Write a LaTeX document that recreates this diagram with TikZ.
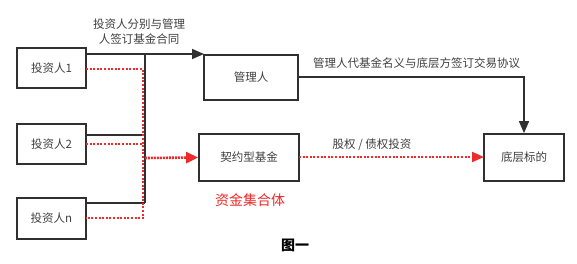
\documentclass[tikz,border=0pt]{standalone}
\usepackage{fontspec}
\setmainfont{Noto Sans CJK SC}
\usetikzlibrary{arrows.meta,calc}
\definecolor{txt}{HTML}{404040}
\definecolor{ln}{HTML}{303030}
\definecolor{rd}{HTML}{EE2A2A}
\tikzset{
  box/.style={draw=ln,line width=1.8pt,rectangle,inner sep=0pt,font=\fontsize{11.5}{13}\selectfont,text=txt},
  blk/.style={draw=ln,line width=1.6pt},
  reddot/.style={color=rd,line width=2pt,dash pattern=on 2pt off 1.6pt},
  tipb/.style={-{Triangle[length=12pt,width=10pt]}},
  lbl/.style={font=\fontsize{11.5}{15}\selectfont,text=txt,inner sep=0pt,align=center}
}
\begin{document}
\begin{tikzpicture}[x=1pt,y=-1pt]
\useasboundingbox[fill=white] (0,0) rectangle (577,263);
\node[box,minimum width=69pt,minimum height=40pt] (inv1) at (51.5,68) {投资人1};
\node[box,minimum width=69pt,minimum height=40pt] (inv2) at (51.5,144) {投资人2};
\node[box,minimum width=69pt,minimum height=41pt] (invn) at (51.5,218.5) {投资人n};
\node[box,minimum width=94pt,minimum height=45pt] (mgr) at (251,77.5) {管理人};
\node[box,minimum width=100pt,minimum height=47pt] (fund) at (249,157.5) {契约型基金};
\node[box,minimum width=80pt,minimum height=47pt] (tgt) at (524,157.5) {底层标的};
% coordinates on box edges
\coordinate (a1) at (86,54);
\coordinate (busT) at (145,54);
\coordinate (mgrIn) at (204,54);
\coordinate (a2) at (86,135);
\coordinate (b2) at (145,135);
\coordinate (an) at (86,203);
\coordinate (bn) at (145,203);
\coordinate (r1) at (86,69);
\coordinate (s1) at (143,69);
\coordinate (r2) at (86,144);
\coordinate (s2) at (143,144);
\coordinate (rn) at (86,218);
\coordinate (sn) at (143,218);
\coordinate (f0) at (145,158);
\coordinate (m1) at (298,77);
\coordinate (m2) at (524,77);
\coordinate (g0) at (299,157);
\coordinate (g1) at (484,157);
% black lines
\draw[blk,tipb] (a1) -- (mgrIn);
\draw[blk] (busT) -- (bn);
\draw[blk] (a2) -- (b2);
\draw[blk] (an) -- (bn);
% red dotted
\draw[reddot] (r1) -- (s1) -- (sn) -- (rn);
\draw[reddot] (r2) -- (s2);
\draw[color=rd,line width=2.6pt,dash pattern=on 2pt off 1pt,-{Triangle[length=12pt,width=11pt]}] (f0) -- (fund.west);
% manager to target
\draw[blk,tipb] (m1) -- (m2) -- (tgt.north);
% fund to target
\draw[reddot,-{Triangle[length=12pt,width=10pt]}] (g0) -- (g1);
% labels
\node[lbl] (l1) at (139,32) {投资人分别与管理\\人签订基金合同};
\node[lbl,anchor=west] (l2) at (313,63) {管理人代基金名义与底层方签订交易协议};
\node[lbl] (l3) at (372,145) {股权 / 债权投资};
\node[font=\fontsize{14}{16}\selectfont,text=rd,inner sep=0pt] (l4) at (250,200) {资金集合体};
\node[font=\fontsize{14}{16}\selectfont\bfseries,text=black,inner sep=0pt] (l5) at (295,245) {图一};
\end{tikzpicture}
\end{document}
